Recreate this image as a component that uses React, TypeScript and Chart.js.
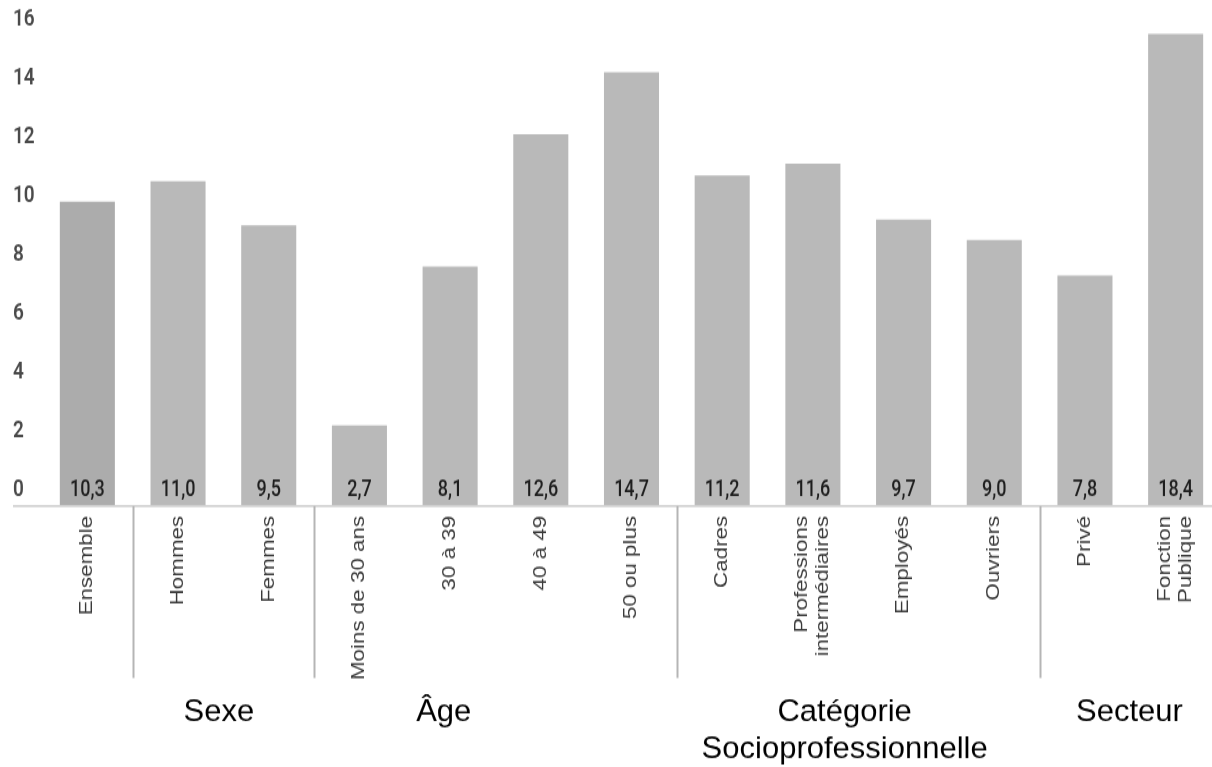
import React, { useEffect, useRef } from "react";
import { Chart, registerables } from "chart.js";

Chart.register(...registerables);

// ---- data ----
const categories: (string | string[])[] = [
  "Ensemble",
  "Hommes",
  "Femmes",
  "Moins de 30 ans",
  "30 à 39",
  "40 à 49",
  "50 ou plus",
  "Cadres",
  ["Professions", "intermédiaires"],
  "Employés",
  "Ouvriers",
  "Privé",
  ["Fonction", "Publique"],
];
const values = [10.3, 11.0, 9.5, 2.7, 8.1, 12.6, 14.7, 11.2, 11.6, 9.7, 9.0, 7.8, 18.4];
const valueLabels = ["10,3", "11,0", "9,5", "2,7", "8,1", "12,6", "14,7", "11,2", "11,6", "9,7", "9,0", "7,8", "18,4"];
const barColors = ["#acacac", "#b9b9b9", "#b9b9b9", "#b9b9b9", "#b9b9b9", "#b9b9b9", "#b9b9b9", "#b9b9b9", "#b9b9b9", "#b9b9b9", "#b9b9b9", "#b9b9b9", "#b9b9b9"];
const yMin = 0;
const yMax = 16;
const yStep = 2;
const groupSeparatorsAfter = [0, 2, 6, 10];
const groupLabels: string[][] = [["Sexe"], ["Âge"], ["Catégorie", "Socioprofessionnelle"], ["Secteur"]];
const groupLabelPositions = [1.45, 3.93, 8.35, 11.49];

// ---- layout ----
const VIEW_W = 1212;
const VIEW_H = 767;
const CANVAS_W = 1222;
const CANVAS_H = 600;
const K = VIEW_H / CANVAS_H; // vertical stretch of the drawing
const X_FONT_SIZE = 17.5;
const X_LINE_HEIGHT = 1.22;

const overlayPlugin = {
  id: "overlay",
  afterDraw(chart: any) {
    const { ctx } = chart;
    const xs = chart.scales.x;
    const ys = chart.scales.y;
    const base = ys.getPixelForValue(0);
    ctx.save();
    // axis line
    ctx.strokeStyle = "#d2d2d2";
    ctx.lineWidth = 1.7;
    ctx.beginPath();
    ctx.moveTo(13, base + 0.8);
    ctx.lineTo(chart.width, base + 0.8);
    ctx.stroke();
    // group separators
    ctx.strokeStyle = "#b5b5b5";
    ctx.lineWidth = 2;
    const sepBottom = 678 / K;
    groupSeparatorsAfter.forEach((i) => {
      const x = Math.round(xs.getPixelForValue(i + 0.5)) + 0.5;
      ctx.beginPath();
      ctx.moveTo(x, base + 0.8);
      ctx.lineTo(x, sepBottom);
      ctx.stroke();
    });
    // category labels (rotated, centred on each category)
    ctx.fillStyle = "#3a3a3a";
    ctx.font = `${X_FONT_SIZE}px 'Liberation Sans', Arial, sans-serif`;
    ctx.textAlign = "right";
    ctx.textBaseline = "middle";
    const lh = X_FONT_SIZE * X_LINE_HEIGHT;
    const labelTop = xs.top + 8.5;
    categories.forEach((cat, i) => {
      const lines = Array.isArray(cat) ? cat : [cat];
      const x = xs.getPixelForValue(i);
      ctx.save();
      ctx.translate(x, labelTop);
      ctx.rotate(-Math.PI / 2);
      lines.forEach((line, li) => {
        ctx.fillText(line, 0, (li - (lines.length - 1) / 2) * lh);
      });
      ctx.restore();
    });
    // value labels at the bottom of each bar
    const meta = chart.getDatasetMeta(0);
    ctx.fillStyle = "#1e1e1e";
    ctx.font = "500 18px Roboto";
    ctx.textAlign = "center";
    ctx.textBaseline = "middle";
    meta.data.forEach((bar: any, i: number) => {
      ctx.fillText(valueLabels[i], bar.x, base - 11.5);
    });
    // group labels (drawn unstretched)
    ctx.scale(1, 1 / K);
    ctx.fillStyle = "#000";
    ctx.font = "31px 'Liberation Sans', Arial, sans-serif";
    groupLabels.forEach((lines, g) => {
      const x = xs.getPixelForValue(groupLabelPositions[g]);
      lines.forEach((line, li) => {
        ctx.fillText(line, x, 713 + li * 37);
      });
    });
    ctx.restore();
  },
};

export default function App() {
  const ref = useRef<HTMLCanvasElement>(null);
  useEffect(() => {
    if (!ref.current) return;
    const chart = new Chart(ref.current, {
      type: "bar",
      data: {
        labels: categories as any,
        datasets: [
          {
            data: values,
            backgroundColor: barColors,
            borderWidth: 0,
            categoryPercentage: 1,
            barPercentage: 0.607,
          },
        ],
      },
      options: {
        animation: false,
        responsive: false,
        devicePixelRatio: 1,
        layout: { padding: { left: 13, right: 1, top: 34 / K, bottom: 0 } },
        plugins: { legend: { display: false }, tooltip: { enabled: false } },
        scales: {
          x: {
            grid: { display: false, drawTicks: false },
            border: { display: false },
            afterFit: (s: any) => {
              s.height = CANVAS_H - 505 / K;
            },
            ticks: { display: false },
          },
          y: {
            min: yMin,
            max: yMax,
            grid: { display: false, drawTicks: false },
            border: { display: false },
            afterFit: (s: any) => {
              s.width = 29;
            },
            ticks: {
              stepSize: yStep,
              crossAlign: "far",
              labelOffset: -15 / K,
              padding: 0,
              color: "#4a4a4a",
              font: { family: "Roboto", size: 19, weight: "600" },
            },
          },
        },
      },
      plugins: [overlayPlugin],
    });
    return () => chart.destroy();
  }, []);
  return (
    <div
      style={{
        position: "fixed",
        left: 0,
        top: 0,
        width: VIEW_W,
        height: VIEW_H,
        overflow: "hidden",
        background: "#fff",
      }}
    >
      <canvas
        ref={ref}
        width={CANVAS_W}
        height={CANVAS_H}
        style={{ width: CANVAS_W + "px", height: VIEW_H + "px", display: "block" }}
      />
    </div>
  );
}
